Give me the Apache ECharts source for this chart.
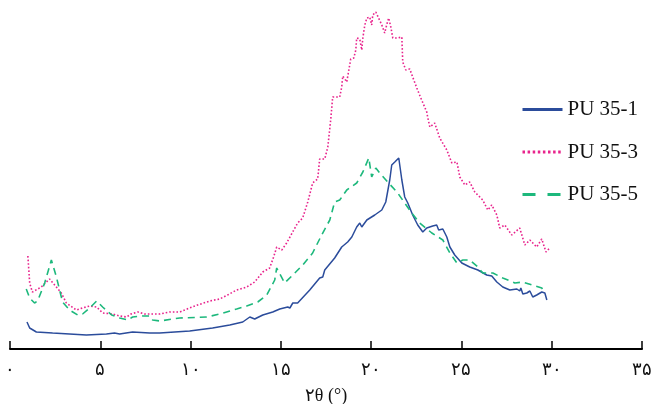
<!DOCTYPE html>
<html>
<head>
<meta charset="utf-8">
<script src="https://cdn.jsdelivr.net/npm/echarts@6/dist/echarts.min.js"></script>
<style>html,body{margin:0;padding:0;background:#fff}#c{width:652px;height:404px}</style>
</head>
<body>
<div id="c"></div>
<script>
// 2θ positions and relative intensities
const seriesNames = ['PU 35-1', 'PU 35-3', 'PU 35-5'];
const xTicks = [0, 5, 10, 15, 20, 25, 30, 35];
const axisTitle = '۲θ (°)';

const blueX = [0.94,1.09,1.46,2.36,4.23,5.34,5.79,6.07,6.79,7.73,8.29,9.95,11.22,12.17,12.89,13.28,13.55,14.00,14.55,14.94,15.38,15.50,15.66,15.93,16.60,17.15,17.32,17.43,17.98,18.37,18.70,18.93,19.20,19.37,19.48,19.76,20.20,20.59,20.81,21.03,21.14,21.31,21.53,21.70,21.86,22.03,22.30,22.58,22.86,23.08,23.41,23.63,23.74,23.97,24.19,24.36,24.63,25.02,25.46,25.91,26.40,26.68,26.96,27.29,27.68,28.07,28.23,28.29,28.40,28.62,28.79,28.95,29.17,29.45,29.62,29.73];
const blueY = [27,21,17,16,14,15,16,15,17,16,16,18,21,24,27,32,30,34,37,40,42,41,46,46,59,71,72,79,91,102,107,112,122,126,122,129,134,139,147,169,184,187,191,169,152,146,134,124,117,121,123,124,119,120,112,102,94,86,82,79,74,73,67,62,59,60,58,61,55,56,58,52,54,57,56,49];

const pinkX = [0.99,1.09,1.24,1.73,2.19,2.30,2.84,3.12,3.67,4.02,4.41,4.80,5.13,5.68,6.07,6.46,6.70,7.07,7.46,7.73,8.29,8.84,9.40,9.95,10.39,11.06,11.61,12.05,12.55,13.11,13.55,14.00,14.38,14.45,14.60,14.77,15.05,15.32,15.93,16.21,16.49,16.76,17.04,17.15,17.26,17.43,17.60,17.76,17.87,18.26,18.32,18.37,18.43,18.65,18.70,18.87,19.04,19.15,19.20,19.37,19.48,19.54,19.65,19.76,19.92,20.03,20.09,20.26,20.37,20.59,20.75,20.86,20.97,21.09,21.20,21.47,21.70,21.75,21.92,22.14,22.30,22.53,22.75,22.86,23.08,23.13,23.25,23.52,23.80,24.19,24.47,24.75,24.91,25.19,25.46,25.74,26.18,26.46,26.68,26.96,27.12,27.40,27.79,28.23,28.51,28.79,29.17,29.45,29.68,29.89];
const pinkY = [93,66,57,62,70,71,56,46,39,41,43,42,36,35,33,32,35,37,35,35,35,37,37,41,44,48,50,54,59,62,67,77,81,80,92,102,99,106,126,131,147,166,170,190,189,190,202,229,252,252,251,262,273,267,268,290,291,299,311,310,299,311,324,331,332,324,334,337,336,324,316,324,331,322,311,311,312,287,279,280,272,261,251,249,237,232,222,226,211,199,186,187,172,164,167,157,149,139,144,134,121,124,114,121,104,109,102,110,97,101];

const greenX = [0.90,1.09,1.36,1.53,1.92,2.29,2.57,2.91,3.30,3.75,4.02,4.41,4.80,5.13,5.63,6.07,6.52,6.79,7.35,7.73,7.90,8.29,9.40,10.89,11.61,12.55,13.11,13.72,14.22,14.66,14.77,15.21,15.66,16.21,16.76,17.26,17.71,17.98,18.26,18.65,19.20,19.54,19.87,20.03,20.26,20.48,20.92,21.03,21.47,21.86,22.25,22.69,23.36,23.97,24.36,24.75,25.08,25.46,25.91,26.18,26.74,27.29,27.96,28.40,28.90,29.45,29.62];
const greenY = [60,51,46,48,66,89,72,47,39,34,35,41,48,42,34,31,29,32,33,33,29,28,31,32,35,40,43,47,54,69,81,66,74,84,96,114,129,147,149,159,166,177,191,172,181,176,167,166,156,146,136,126,116,109,96,86,89,89,82,76,76,71,66,67,64,61,56];

const faDigits = '۰۱۲۳۴۵۶۷۸۹';
const toFa = v => String(v).replace(/\d/g, d => faDigits[+d]);
const pairs = (xs, ys) => xs.map((x, i) => [x, ys[i]]);

const hidden = {opacity: 0, borderWidth: 0};
const chart = echarts.init(document.getElementById('c'), null, {renderer: 'canvas'});
chart.setOption({
  animation: false,
  backgroundColor: '#fff',
  grid: {left: 10, right: 10, top: 10, bottom: 55, containLabel: false, outerBoundsMode: 'none'},
  xAxis: {
    type: 'value', min: xTicks[0], max: xTicks[xTicks.length - 1], interval: 5,
    name: axisTitle, nameLocation: 'middle', nameGap: 38,
    nameTextStyle: {color: '#111', fontSize: 18, fontFamily: 'Liberation Serif, DejaVu Serif, serif'},
    axisLine: {lineStyle: {color: '#000', width: 2}},
    axisTick: {inside: true, length: 8, lineStyle: {color: '#000', width: 1.5}},
    axisLabel: {formatter: v => toFa(v), color: '#111', fontSize: 18, margin: 12,
      fontFamily: 'Liberation Serif, DejaVu Serif, serif'},
    splitLine: {show: false}
  },
  yAxis: {type: 'value', min: 0, max: 339, show: false},
  legend: {
    orient: 'vertical', left: 521, top: 99, itemWidth: 40, itemHeight: 20, itemGap: 21.5,
    padding: 0,
    textStyle: {color: '#111', fontSize: 21, lineHeight: 20, fontFamily: 'Liberation Serif, Times New Roman, serif'},
    data: [
      {name: seriesNames[0], itemStyle: hidden, lineStyle: {width: 3, type: 'solid'}},
      {name: seriesNames[1], itemStyle: hidden, lineStyle: {width: 3, type: [2.5, 2.6]}},
      {name: seriesNames[2], itemStyle: hidden, lineStyle: {width: 3, type: [13, 12]}}
    ]
  },
  series: [
    {name: seriesNames[0], type: 'line', data: pairs(blueX, blueY), showSymbol: false, symbol: 'none',
      lineStyle: {color: '#2B4C9B', width: 1.5}, itemStyle: {color: '#2B4C9B'}},
    {name: seriesNames[1], type: 'line', data: pairs(pinkX, pinkY), showSymbol: false, symbol: 'none',
      lineStyle: {color: '#E8238C', width: 1.6, type: [1.6, 2]}, itemStyle: {color: '#E8238C'}},
    {name: seriesNames[2], type: 'line', data: pairs(greenX, greenY), showSymbol: false, symbol: 'none',
      lineStyle: {color: '#1DB87C', width: 1.6, type: [7, 5]}, itemStyle: {color: '#1DB87C'}}
  ]
});
</script>
</body>
</html>
